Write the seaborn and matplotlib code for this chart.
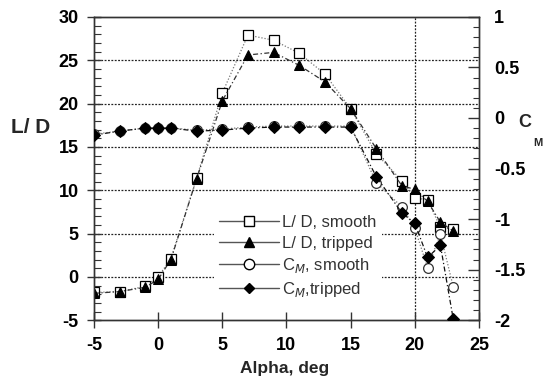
import numpy as np
import pandas as pd
import seaborn as sns
import matplotlib
matplotlib.use("Agg")
import matplotlib.pyplot as plt
from matplotlib.lines import Line2D
from matplotlib.ticker import MultipleLocator

sns.set_theme(style="white")
plt.rcParams['font.family'] = ['Liberation Sans', 'DejaVu Sans']
plt.rcParams['axes.unicode_minus'] = False

alpha = [-5, -3, -1, 0, 1, 3, 5, 7, 9, 11, 13, 15, 17, 19, 20, 21, 22, 23]
ld_smooth = [-1.8, -1.7, -1.1, 0.0, 2.1, 11.4, 21.2, 27.9, 27.3, 25.8, 23.4, 19.4, 14.2, 11.1, 9.1, 8.9, 5.7, 5.5]
ld_tripped = [-1.9, -1.7, -1.2, -0.3, 2.0, 11.3, 20.3, 25.6, 25.9, 24.4, 22.5, 19.4, 14.8, 10.5, 10.1, 8.7, 6.3, 5.3]
cm_smooth = [-0.16, -0.13, -0.10, -0.10, -0.10, -0.12, -0.11, -0.09, -0.08, -0.08, -0.08, -0.08, -0.64, -0.88, -1.09, -1.48, -1.15, -1.67]
cm_tripped = [-0.17, -0.13, -0.10, -0.10, -0.10, -0.13, -0.12, -0.10, -0.09, -0.09, -0.09, -0.09, -0.58, -0.94, -1.04, -1.38, -1.26, -1.99]

labels = ["L/ D, smooth", "L/ D, tripped", "C$_M$, smooth", "C$_M$,tripped"]

df = pd.DataFrame({"alpha": alpha, "ld_s": ld_smooth, "ld_t": ld_tripped,
                   "cm_s": cm_smooth, "cm_t": cm_tripped})

fig = plt.figure(figsize=(5.43, 3.83), dpi=100)
ax = fig.add_axes([0.173, 0.164, 0.709, 0.792])
ax2 = ax.twinx()

# grid lines
for yv in [0, 5, 10, 15, 20, 25]:
    ax.axhline(yv, color='#222222', lw=0.9, ls=(0, (1.5, 1.2)), zorder=0.5)
ax.axvline(20, color='#222222', lw=0.9, ls=(0, (1.5, 1.2)), zorder=0.5)

sns.lineplot(data=df, x="alpha", y="ld_s", ax=ax, color='#777777', lw=0.9,
             linestyle=(0, (1, 1.5)), marker='s', markersize=7.5,
             markerfacecolor='white', markeredgecolor='black', markeredgewidth=0.9,
             legend=False, zorder=3)
sns.lineplot(data=df, x="alpha", y="ld_t", ax=ax, color='#333333', lw=0.9,
             linestyle=(0, (4, 2, 1, 2)), marker='^', markersize=7.5,
             markerfacecolor='black', markeredgecolor='black',
             legend=False, zorder=4)
sns.lineplot(data=df, x="alpha", y="cm_s", ax=ax2, color='#777777', lw=0.9,
             linestyle=(0, (1, 1.5)), marker='o', markersize=7,
             markerfacecolor='white', markeredgecolor='#333333', markeredgewidth=0.9,
             legend=False, zorder=3)
sns.lineplot(data=df, x="alpha", y="cm_t", ax=ax2, color='#111111', lw=0.9,
             linestyle=(0, (4, 2, 1, 2)), marker='D', markersize=6,
             markerfacecolor='black', markeredgecolor='black',
             legend=False, zorder=4)

ax.set_xlim(-5, 25)
ax.set_ylim(-5, 30)
ax2.set_ylim(-2, 1)
ax.set_xticks([-5, 0, 5, 10, 15, 20, 25])
ax.set_yticks([-5, 0, 5, 10, 15, 20, 25, 30])
ax.yaxis.set_minor_locator(MultipleLocator(1))
ax2.set_yticks([-2, -1.5, -1, -0.5, 0, 0.5, 1])
ax2.set_yticklabels(["-2", "-1.5", "-1", "-0.5", "0", "0.5", "1"])
ax2.yaxis.set_minor_locator(MultipleLocator(0.1))

for a in (ax, ax2):
    for s in a.spines.values():
        s.set_color('#333333')
        s.set_linewidth(1.0)
    a.set_xlabel("")
    a.set_ylabel("")

ax.tick_params(axis='x', which='major', direction='inout', length=12, width=1,
               color='#333333', labelsize=13, pad=6, bottom=True, top=False)
ax.tick_params(axis='y', which='major', direction='inout', length=10, width=1,
               color='#333333', labelsize=13, pad=6, left=True, right=False)
ax.tick_params(axis='y', which='minor', direction='in', length=5, width=0.8,
               color='#333333', left=True, right=False)
ax2.tick_params(axis='y', which='major', direction='in', length=8, width=1,
                color='#333333', labelsize=13, pad=11, right=True, left=False)
ax2.tick_params(axis='y', which='minor', direction='in', length=4.5, width=0.8,
                color='#333333', right=True, left=False)
for lab in ax.get_xticklabels() + ax.get_yticklabels() + ax2.get_yticklabels():
    lab.set_fontweight('bold')
    lab.set_color('black')

fig.text(0.057, 0.668, "L/ D", fontsize=15, fontweight='bold', ha='center', va='center')
fig.text(0.966, 0.681, "C", fontsize=13, fontweight='bold', ha='center', va='center')
fig.text(0.991, 0.627, "M", fontsize=8, fontweight='bold', ha='center', va='center')
fig.text(0.524, 0.037, "Alpha, deg", fontsize=12.5, fontweight='bold', ha='center', va='center')

handles = [
    Line2D([], [], color='#555555', lw=1, marker='s', markersize=7, markerfacecolor='white', markeredgecolor='black'),
    Line2D([], [], color='#555555', lw=1, marker='^', markersize=7, markerfacecolor='black', markeredgecolor='black'),
    Line2D([], [], color='#555555', lw=1, marker='o', markersize=7.5, markerfacecolor='white', markeredgecolor='black'),
    Line2D([], [], color='#555555', lw=1, marker='D', markersize=5.5, markerfacecolor='black', markeredgecolor='black'),
]
leg = ax2.legend(handles, labels, loc='upper left', bbox_to_anchor=(0.29, 0.39),
                 frameon=True, fancybox=False, facecolor='white', edgecolor='none',
                 framealpha=1, fontsize=12, handlelength=3.6, handletextpad=0.2,
                 labelspacing=0.32, borderpad=0.3, labelcolor='#333333')
leg.set_zorder(10)

fig.savefig("out.png", dpi=100)
